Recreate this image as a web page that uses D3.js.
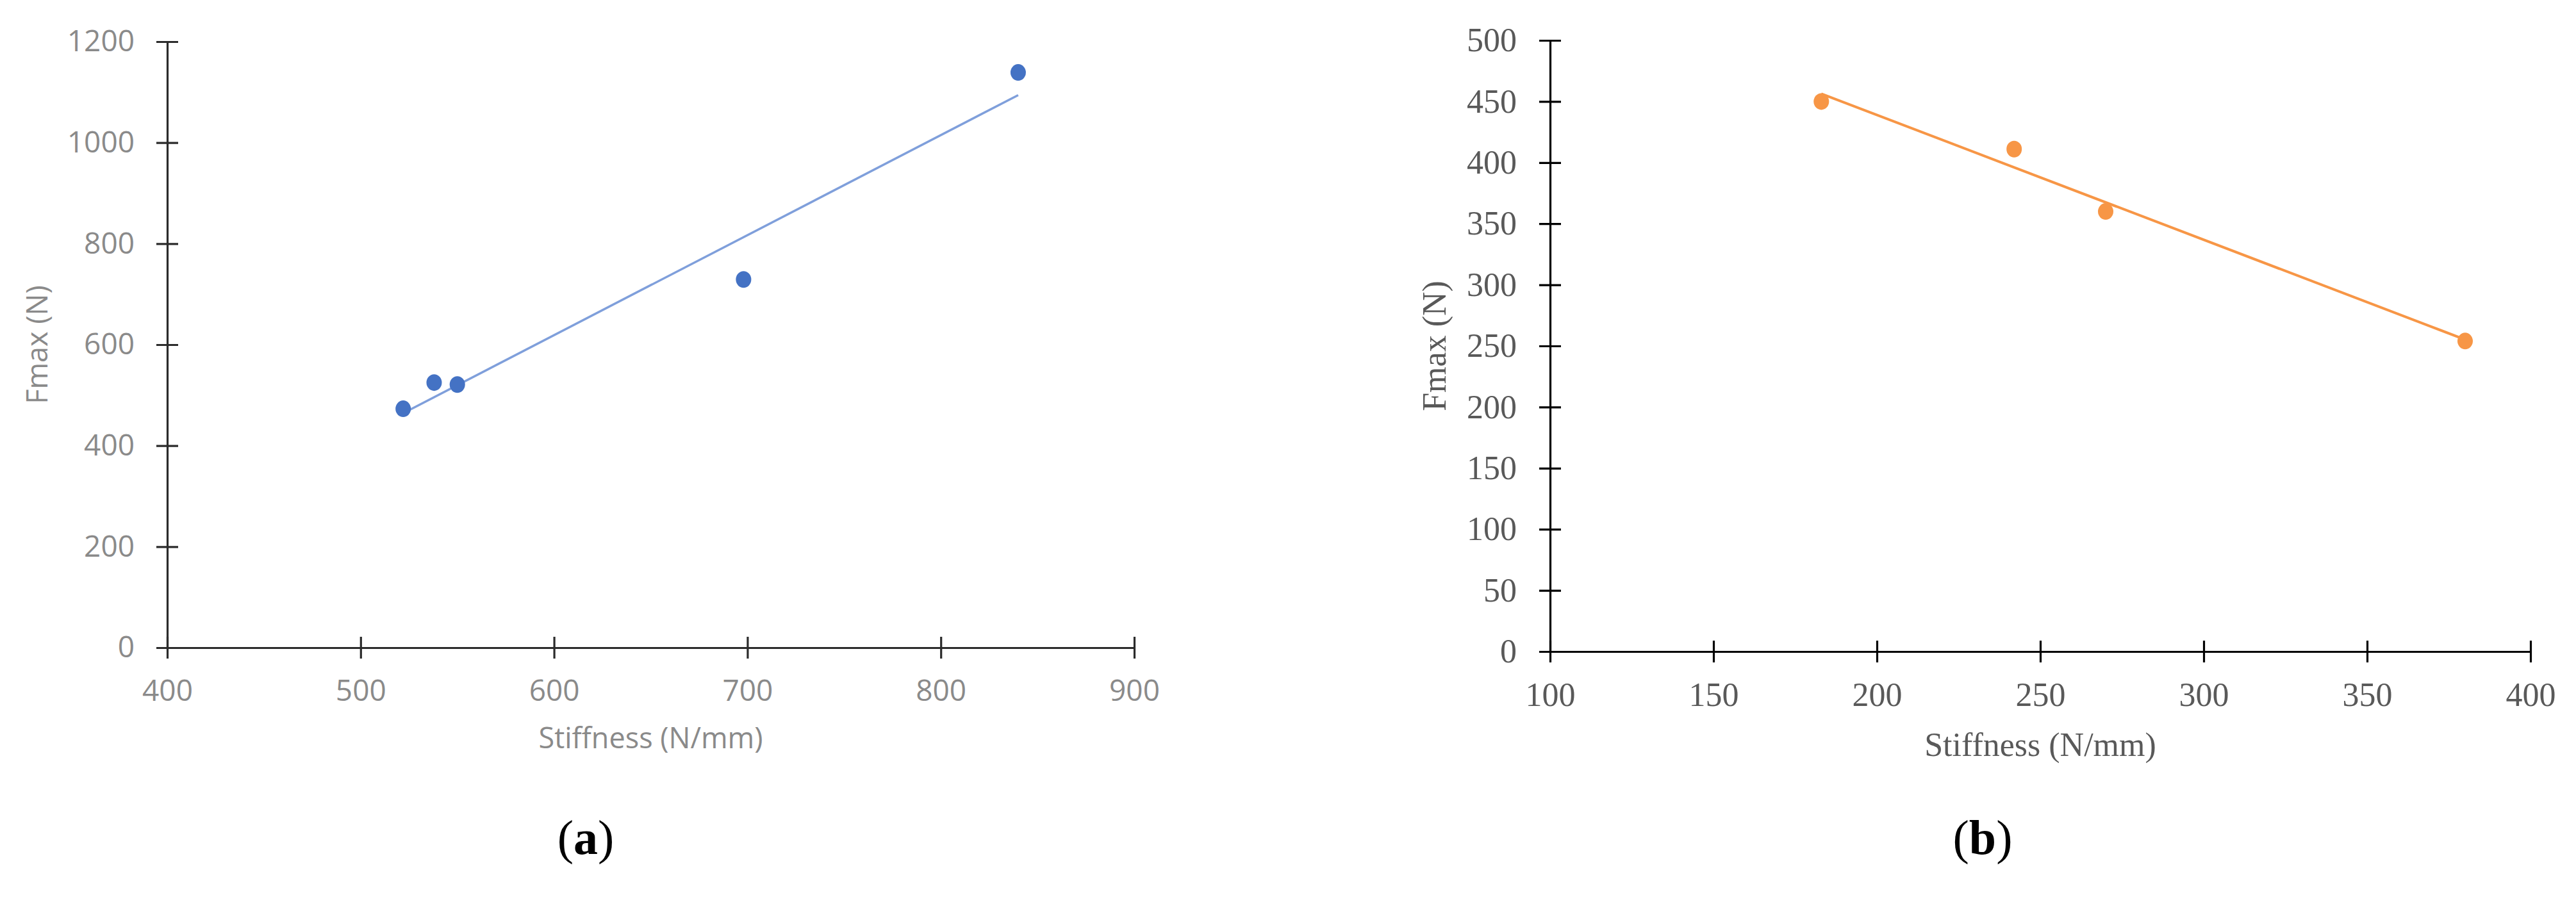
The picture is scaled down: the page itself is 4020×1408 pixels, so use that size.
<!DOCTYPE html>
<html>
<head>
<meta charset="utf-8">
<script src="https://cdn.jsdelivr.net/npm/d3@7"></script>
<style>
  html, body { margin: 0; padding: 0; background: #fff; }
  svg { display: block; }
</style>
</head>
<body>
<svg id="chart" width="4020" height="1408"></svg>
<script>
// ---- Data: panel (a) ----
const stiffnessA = [522, 538, 550, 698, 840];
const fmaxA      = [473, 525, 521, 729, 1139];
const xTicksA    = [400, 500, 600, 700, 800, 900];
const yTicksA    = [0, 200, 400, 600, 800, 1000, 1200];

// ---- Data: panel (b) ----
const stiffnessB = [183, 242, 270, 380];
const fmaxB      = [450, 411, 360, 254];
const xTicksB    = [100, 150, 200, 250, 300, 350, 400];
const yTicksB    = [0, 50, 100, 150, 200, 250, 300, 350, 400, 450, 500];

const xTitle = "Stiffness (N/mm)";
const yTitle = "Fmax (N)";
const captions = ["(a)", "(b)"];

function linfit(xs, ys) {
  const n = xs.length;
  const mx = d3.mean(xs), my = d3.mean(ys);
  let sxy = 0, sxx = 0;
  for (let i = 0; i < n; i++) { sxy += (xs[i]-mx)*(ys[i]-my); sxx += (xs[i]-mx)**2; }
  const m = sxy / sxx;
  return x => my + m * (x - mx);
}

const svg = d3.select("#chart");
const fmt = d3.format("d");

function panel(cfg) {
  const g = svg.append("g");
  const x = d3.scaleLinear().domain(cfg.xDomain).range(cfg.xRange);
  const y = d3.scaleLinear().domain(cfg.yDomain).range(cfg.yRange);
  const x0 = cfg.xRange[0], y0 = cfg.yRange[0];

  // y axis
  const ya = g.append("g").attr("transform", `translate(${x0},0)`)
    .call(d3.axisLeft(y).tickValues(cfg.yTicks).tickFormat(fmt)
      .tickSizeInner(17).tickSizeOuter(0).tickPadding(cfg.pad));
  // x axis
  const xa = g.append("g").attr("transform", `translate(0,${y0})`)
    .call(d3.axisBottom(x).tickValues(cfg.xTicks).tickFormat(fmt)
      .tickSizeInner(17).tickSizeOuter(0));

  [ya, xa].forEach(a => {
    a.select(".domain").attr("stroke", cfg.axisColor).attr("stroke-width", 3.2);
    a.selectAll(".tick line").attr("stroke", cfg.axisColor).attr("stroke-width", 3.2);
    a.selectAll(".tick text").attr("fill", cfg.textColor)
      .style("font-family", cfg.font).style("font-size", cfg.fontSize + "px");
  });
  ya.selectAll(".tick line").attr("x1", 17);
  xa.selectAll(".tick line").attr("y1", -17);
  xa.selectAll(".tick text").attr("y", cfg.xLabelBase).attr("dy", 0);

  // trendline
  const f = linfit(cfg.xs, cfg.ys);
  const xmin = d3.min(cfg.xs), xmax = d3.max(cfg.xs);
  g.append("line")
    .attr("x1", x(xmin)).attr("y1", y(f(xmin)))
    .attr("x2", x(xmax)).attr("y2", y(f(xmax)))
    .attr("stroke", cfg.lineColor).attr("stroke-width", cfg.lineWidth);

  // points
  g.selectAll("ellipse.pt").data(cfg.xs.map((v, i) => [v, cfg.ys[i]])).enter()
    .append("ellipse").attr("class", "pt")
    .attr("cx", d => x(d[0])).attr("cy", d => y(d[1]))
    .attr("rx", 12).attr("ry", 13)
    .attr("fill", cfg.pointColor);

  // axis titles
  g.append("text")
    .attr("x", (cfg.xRange[0] + cfg.xRange[1]) / 2).attr("y", cfg.xTitleY)
    .attr("text-anchor", "middle").attr("fill", cfg.textColor)
    .style("font-family", cfg.font).style("font-size", cfg.titleSize + "px")
    .text(xTitle);
  g.append("text")
    .attr("transform", `translate(${cfg.yTitleX},${(cfg.yRange[0] + cfg.yRange[1]) / 2}) rotate(-90)`)
    .attr("text-anchor", "middle").attr("fill", cfg.textColor)
    .style("font-family", cfg.font).style("font-size", cfg.titleSize + "px")
    .text(yTitle);

  // caption
  const cap = g.append("text")
    .attr("x", cfg.capX).attr("y", 1333)
    .attr("text-anchor", "middle").attr("fill", "#000")
    .style("font-family", "'Liberation Serif', 'DejaVu Serif', serif")
    .style("font-size", "76px");
  const c = cfg.caption;
  cap.append("tspan").text(c[0]);
  cap.append("tspan").style("font-weight", "bold").text(c.slice(1, -1));
  cap.append("tspan").text(c[c.length - 1]);
}

panel({
  xs: stiffnessA, ys: fmaxA,
  xDomain: [400, 900], xRange: [261, 1770],
  yDomain: [0, 1200], yRange: [1011, 65],
  xTicks: xTicksA, yTicks: yTicksA,
  pad: 34, xLabelBase: 83,
  axisColor: "#2b2b2b", textColor: "#8a8a8a",
  font: "'Open Sans', 'Noto Sans', sans-serif", fontSize: 46, titleSize: 45,
  lineColor: "#7f9fdb", lineWidth: 3.5, pointColor: "#4472c4",
  xTitleY: 1168, yTitleX: 74,
  capX: 914, caption: captions[0]
});

panel({
  xs: stiffnessB, ys: fmaxB,
  xDomain: [100, 400], xRange: [2419, 3949],
  yDomain: [0, 500], yRange: [1017, 63],
  xTicks: xTicksB, yTicks: yTicksB,
  pad: 35, xLabelBase: 85,
  axisColor: "#000", textColor: "#595959",
  font: "'Liberation Serif', 'DejaVu Serif', serif", fontSize: 52, titleSize: 52,
  lineColor: "#f79646", lineWidth: 4, pointColor: "#f79646",
  xTitleY: 1180, yTitleX: 2256,
  capX: 3094, caption: captions[1]
});
</script>
</body>
</html>
